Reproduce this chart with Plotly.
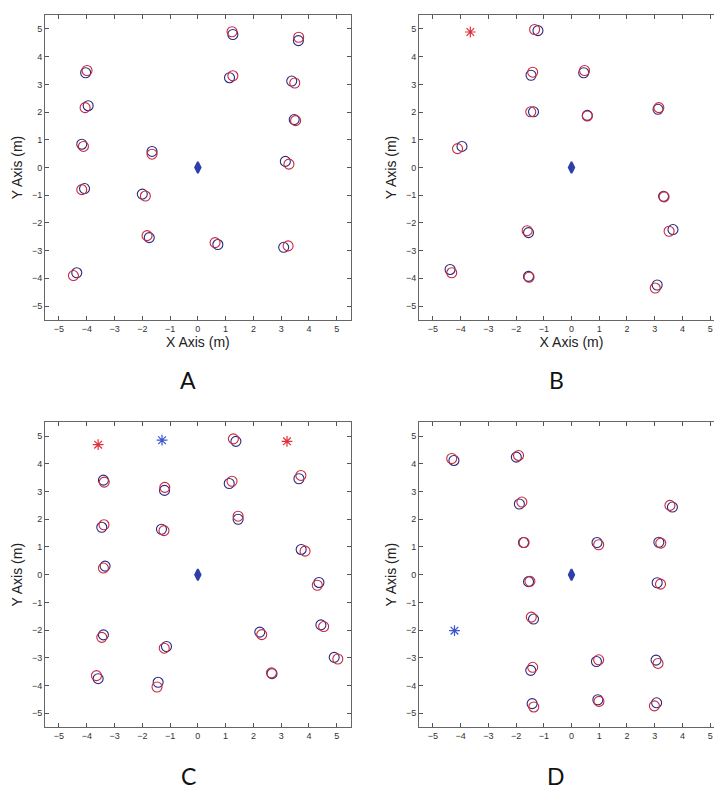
import plotly.graph_objects as go

# ---------------- data (metres) ----------------
# Panel A
A_blue_x = [1.26, 3.62, -4.04, 1.14, 3.38, -3.95, 3.47, -4.18, -1.65, 3.15, -4.08, -2.00, -1.75, 0.72, 3.09, -4.36]
A_blue_y = [4.80, 4.58, 3.42, 3.24, 3.12, 2.23, 1.73, 0.84, 0.58, 0.22, -0.76, -0.96, -2.53, -2.78, -2.88, -3.80]
A_red_x = [1.23, 3.63, -3.99, 1.26, 3.49, -4.06, 3.52, -4.12, -1.65, 3.28, -4.18, -1.89, -1.83, 0.62, 3.25, -4.48]
A_red_y = [4.90, 4.70, 3.50, 3.31, 3.05, 2.16, 1.69, 0.76, 0.48, 0.12, -0.80, -1.03, -2.46, -2.71, -2.83, -3.90]
A_star_red_x, A_star_red_y = [], []
A_star_blue_x, A_star_blue_y = [], []

# Panel B
B_blue_x = [-1.21, -1.46, 0.44, -1.37, 0.57, 3.12, -3.95, 3.32, -1.55, 3.66, -1.55, -4.38, 3.09]
B_blue_y = [4.94, 3.33, 3.42, 2.01, 1.88, 2.10, 0.76, -1.04, -2.35, -2.24, -3.93, -3.68, -4.24]
B_red_x = [-1.33, -1.40, 0.47, -1.47, 0.57, 3.15, -4.11, 3.34, -1.60, 3.52, -1.53, -4.32, 3.02]
B_red_y = [4.98, 3.44, 3.50, 2.01, 1.86, 2.16, 0.68, -1.06, -2.28, -2.30, -3.96, -3.80, -4.35]
B_star_red_x, B_star_red_y = [-3.65], [4.89]
B_star_blue_x, B_star_blue_y = [], []

# Panel C
C_blue_x = [1.37, -3.40, -1.20, 1.13, 3.64, -3.46, -1.31, 1.45, 3.72, -3.34, 4.36, -3.40, -1.13, 2.23, 4.43, 4.91, -3.59, -1.43, 2.67]
C_blue_y = [4.81, 3.41, 3.04, 3.29, 3.46, 1.71, 1.64, 2.00, 0.91, 0.31, -0.28, -2.17, -2.59, -2.07, -1.81, -2.98, -3.75, -3.88, -3.57]
C_red_x = [1.28, -3.37, -1.19, 1.23, 3.71, -3.38, -1.22, 1.45, 3.86, -3.40, 4.30, -3.46, -1.21, 2.30, 4.53, 5.04, -3.65, -1.47, 2.65]
C_red_y = [4.90, 3.34, 3.15, 3.37, 3.58, 1.80, 1.59, 2.11, 0.85, 0.24, -0.38, -2.26, -2.65, -2.16, -1.87, -3.04, -3.64, -4.05, -3.54]
C_star_red_x, C_star_red_y = [-3.59, 3.21], [4.69, 4.81]
C_star_blue_x, C_star_blue_y = [-1.29], [4.85]

# Panel D
D_blue_x = [-4.24, -1.99, -1.88, -1.73, 0.92, 3.15, 3.64, -1.55, 3.09, -1.37, 0.90, 3.05, -1.47, -1.42, 0.95, 3.07]
D_blue_y = [4.12, 4.24, 2.55, 1.16, 1.16, 1.17, 2.44, -0.25, -0.29, -1.60, -3.13, -3.08, -3.45, -4.65, -4.51, -4.62]
D_red_x = [-4.32, -1.91, -1.79, -1.71, 0.98, 3.22, 3.55, -1.50, 3.21, -1.45, 0.98, 3.12, -1.40, -1.36, 0.99, 2.99]
D_red_y = [4.19, 4.30, 2.62, 1.16, 1.08, 1.14, 2.50, -0.24, -0.34, -1.53, -3.07, -3.20, -3.34, -4.77, -4.57, -4.73]
D_star_red_x, D_star_red_y = [], []
D_star_blue_x, D_star_blue_y = [-4.22], [-2.02]

# reference point (diamond) at the origin
ref_x = [0]
ref_y = [0]

tick_vals = [-5, -4, -3, -2, -1, 0, 1, 2, 3, 4, 5]
panel_labels = ["A", "B", "C", "D"]

# ---------------- figure ----------------
RED = "#C8283C"
BLUE = "#2A2A80"
STAR_BLUE = "#3A55D0"
STAR_RED = "#E0303A"
DIAMOND = "#2E3FA8"

panels = [
    (A_blue_x, A_blue_y, A_red_x, A_red_y, A_star_red_x, A_star_red_y, A_star_blue_x, A_star_blue_y),
    (B_blue_x, B_blue_y, B_red_x, B_red_y, B_star_red_x, B_star_red_y, B_star_blue_x, B_star_blue_y),
    (C_blue_x, C_blue_y, C_red_x, C_red_y, C_star_red_x, C_star_red_y, C_star_blue_x, C_star_blue_y),
    (D_blue_x, D_blue_y, D_red_x, D_red_y, D_star_red_x, D_star_red_y, D_star_blue_x, D_star_blue_y),
]

W, H = 722, 795
x_dom = [[37.1 / W, 342.6 / W], [411.0 / W, 716.0 / W]]
y_dom = [[1 - 311.9 / H, 1 - 7.1 / H], [1 - 719.2 / H, 1 - 414.2 / H]]

fig = go.Figure()
layout = dict(
    width=W, height=H,
    margin=dict(l=0, r=0, t=0, b=0),
    paper_bgcolor="white", plot_bgcolor="white",
    showlegend=False,
    font=dict(family="Liberation Sans, Arial, sans-serif", color="#333333"),
)

annotations = []
for i, (bx, by, rx, ry, srx, sry, sbx, sby) in enumerate(panels):
    n = i + 1
    xa = "x" if n == 1 else f"x{n}"
    ya = "y" if n == 1 else f"y{n}"
    col = i % 2
    row = i // 2
    fig.add_trace(go.Scatter(x=bx, y=by, mode="markers", xaxis=xa, yaxis=ya,
                             marker=dict(symbol="circle-open", size=10, color=BLUE, line=dict(width=1.1))))
    fig.add_trace(go.Scatter(x=rx, y=ry, mode="markers", xaxis=xa, yaxis=ya,
                             marker=dict(symbol="circle-open", size=10, color=RED, line=dict(width=1.1))))
    if srx:
        fig.add_trace(go.Scatter(x=srx, y=sry, mode="markers", xaxis=xa, yaxis=ya,
                                 marker=dict(symbol="asterisk-open", size=9, color=STAR_RED, line=dict(width=1.2, color=STAR_RED))))
    if sbx:
        fig.add_trace(go.Scatter(x=sbx, y=sby, mode="markers", xaxis=xa, yaxis=ya,
                                 marker=dict(symbol="asterisk-open", size=9, color=STAR_BLUE, line=dict(width=1.2, color=STAR_BLUE))))
    fig.add_trace(go.Scatter(x=ref_x, y=ref_y, mode="markers", xaxis=xa, yaxis=ya,
                             marker=dict(symbol="diamond-tall", size=8, color=DIAMOND,
                                         line=dict(width=1.8, color=DIAMOND))))

    axis_common = dict(
        range=[-5.5, 5.5], tickvals=tick_vals, ticks="inside", ticklen=4, tickwidth=1,
        tickcolor="#555555", showline=True, linecolor="#666666", linewidth=1, mirror="ticks",
        showgrid=False, zeroline=False, tickfont=dict(size=9, color="#333333"),
        fixedrange=True,
    )
    xkey = "xaxis" if n == 1 else f"xaxis{n}"
    ykey = "yaxis" if n == 1 else f"yaxis{n}"
    xtitle = "X Axis (m)" if row == 0 else ""
    layout[xkey] = dict(axis_common, domain=x_dom[col], anchor=ya,
                        title=dict(text=xtitle, font=dict(size=14, color="#222222"), standoff=4))
    layout[ykey] = dict(axis_common, domain=y_dom[row], anchor=xa,
                        title=dict(text="Y Axis (m)", font=dict(size=14, color="#222222"), standoff=6))

    ly = 372 if row == 0 else 768
    annotations.append(dict(text=panel_labels[i], xref="paper", yref="paper",
                            x=(180 if col == 0 else 548) / W, y=1 - ly / H,
                            xanchor="center", yanchor="middle", showarrow=False,
                            font=dict(family="Lato, Open Sans, sans-serif", size=23, color="#111111")))

layout["annotations"] = annotations
fig.update_layout(**layout)
fig.write_html("out.html")
